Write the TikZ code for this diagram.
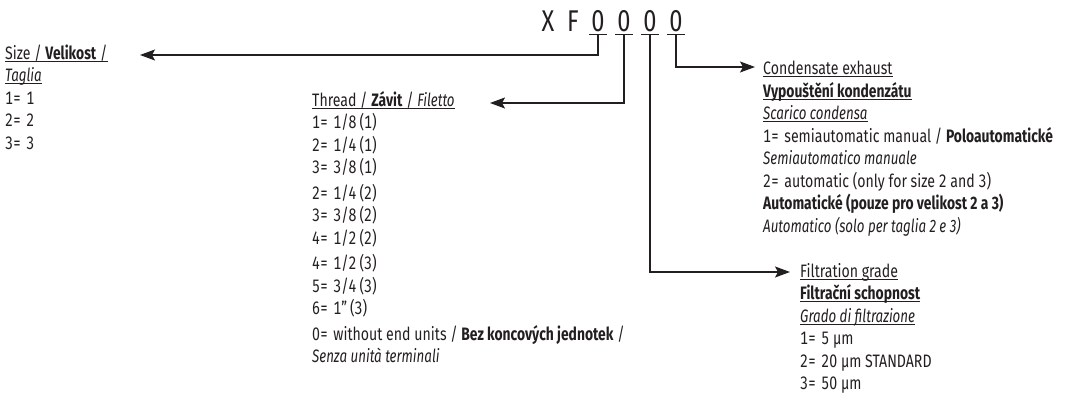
\documentclass[tikz,border=0pt]{standalone}
\usepackage{fontspec}
\setmainfont{Fira Sans}[
  UprightFeatures={FakeStretch=0.785,Numbers=Monospaced},
  ItalicFeatures={FakeStretch=0.74},
  BoldFeatures={FakeStretch=0.77},
  BoldItalicFeatures={FakeStretch=0.74}]
\usetikzlibrary{arrows.meta}
\definecolor{ink}{HTML}{231F20}
\newsavebox\ulbox
\newcommand\myul[1]{\sbox\ulbox{#1}\rlap{\rule[-2.4pt]{\wd\ulbox}{0.8pt}}\usebox\ulbox}
\newcommand\dul[1]{\sbox\ulbox{#1}\rlap{\kern-2pt\rule[-3pt]{\dimexpr\wd\ulbox+4pt\relax}{1pt}}\usebox\ulbox}
\newcommand\fs{\rule{0pt}{14.5pt}}
\newcommand\eq{=\hspace{0.3em}}
\begin{document}
\begin{tikzpicture}[x=1pt,y=-1pt,
  every node/.style={inner sep=0pt, text=ink},
  blk/.style={anchor=north west, align=left, font=\fontsize{18}{22.5}\selectfont},
  digit/.style={anchor=base, font=\fontsize{30}{30}\selectfont},
  conn/.style={draw=ink, line width=1.15pt, -{Stealth[length=15pt,width=11pt,inset=3pt]}}]
\useasboundingbox (0,0) rectangle (1069,403);

% code header
\node[digit] (cx) at (548,32) {X};
\node[digit] (cf) at (573,32) {F};
\node[digit] (d1) at (598,32) {\dul{0}};
\node[digit] (d2) at (624,32) {\dul{0}};
\node[digit] (d3) at (650,32) {\dul{0}};
\node[digit] (d4) at (676,32) {\dul{0}};

% blocks
\node[blk] (size) at (5,44.5) {\fs\myul{Size / \textbf{Velikost} /}\\
\myul{\textit{Taglia}}\\
1\eq 1\\
2\eq 2\\
3\eq 3};

\node[blk] (thread) at (312,91) {\fs\myul{Thread / \textbf{Závit} / \textit{Filetto}}\\
1\eq 1/8\,(1)\\
2\eq 1/4\,(1)\\
3\eq 3/8\,(1)\\[3pt]
2\eq 1/4\,(2)\\
3\eq 3/8\,(2)\\
4\eq 1/2\,(2)\\[3pt]
4\eq 1/2\,(3)\\
5\eq 3/4\,(3)\\
6\eq 1"\,(3)\\[3pt]
0\eq without end units / \textbf{Bez koncových jednotek} /\\
\textit{Senza unità terminali}};

\node[blk] (cond) at (763,60) {\fs\myul{Condensate exhaust}\\
\myul{\textbf{Vypouštění kondenzátu}}\\
\myul{\textit{Scarico condensa}}\\
1\eq semiautomatic manual / \textbf{Poloautomatické}\\
\textit{Semiautomatico manuale}\\
2\eq automatic (only for size 2 and 3)\\
\textbf{Automatické (pouze pro velikost 2 a 3)}\\
\textit{Automatico (solo per taglia 2 e 3)}};

\node[blk] (filt) at (800,262.5) {\fs\myul{Filtration grade}\\
\myul{\textbf{Filtrační schopnost}}\\
\myul{\textit{Grado di filtrazione}}\\
1\eq 5 µm\\
2\eq 20 µm STANDARD\\
3\eq 50 µm};

% connectors
\coordinate (tsize) at (140,55);
\coordinate (tthread) at (490,103);
\coordinate (tfilt) at (790,272);
\coordinate (tcond) at (755,67);
\draw[conn] (d1.south) |- (tsize);
\draw[conn] (d2.south) |- (tthread);
\draw[conn] (d3.south) |- (tfilt);
\draw[conn] (d4.south) |- (tcond);
\end{tikzpicture}
\end{document}
